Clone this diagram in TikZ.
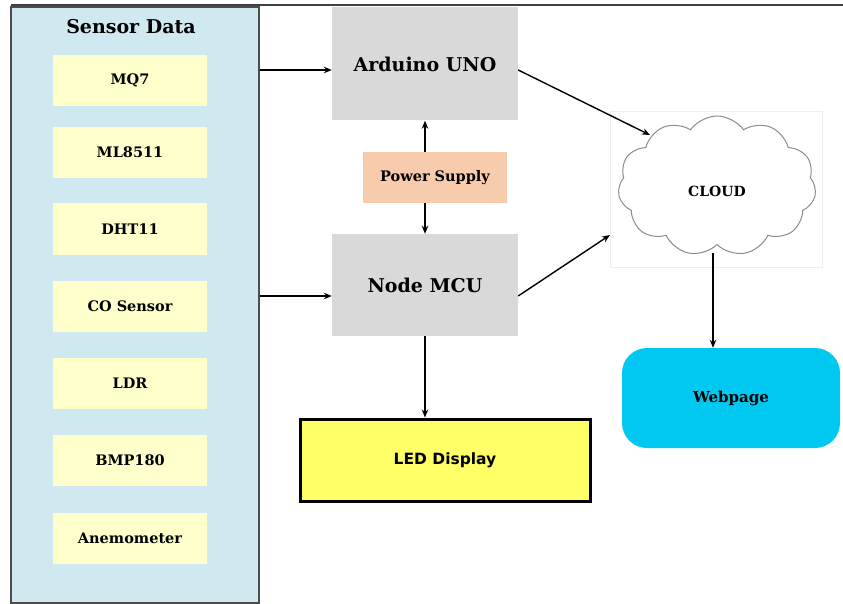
\documentclass[tikz,border=0pt]{standalone}
\usepackage{fontspec}
\setmainfont{DejaVu Serif}
\setsansfont{DejaVu Sans}
\usetikzlibrary{shapes.symbols,arrows.meta}
\definecolor{sensorbg}{RGB}{208,232,240}
\definecolor{sensorfg}{RGB}{255,255,204}
\definecolor{mcugray}{RGB}{217,217,217}
\definecolor{peach}{RGB}{248,203,173}
\definecolor{ledyellow}{RGB}{255,255,102}
\definecolor{webcyan}{RGB}{0,200,240}
\tikzset{
  sensoritem/.style={fill=sensorfg, minimum width=154pt, minimum height=51pt, inner sep=0pt, font=\bfseries\fontsize{14.5}{16}\selectfont},
  mcubox/.style={fill=mcugray, minimum width=186pt, inner sep=0pt, font=\bfseries\fontsize{19}{22}\selectfont},
  arr/.style={draw=black, line width=1.4pt, -{Stealth[length=8pt,width=6.5pt]}},
}
\begin{document}
\begin{tikzpicture}[x=1pt,y=-1pt]
\useasboundingbox (0,0) rectangle (843,604);
\fill[white] (0,0) rectangle (843,604);
\draw[black!75, line width=1.2pt] (11,5) -- (843,5);
% sensor panel
\node[draw=black!70, line width=1.2pt, fill=sensorbg, minimum width=248pt, minimum height=596pt, inner sep=0pt] (sensor) at (135,305) {};
\node[font=\bfseries\fontsize{19}{22}\selectfont] (title) at (131,27) {Sensor Data};
\node[sensoritem] (mq7) at (130,80.5) {MQ7};
\node[sensoritem] (ml) at (130,152.5) {ML8511};
\node[sensoritem] (dht) at (130,229) {DHT11};
\node[sensoritem] (co) at (130,306.5) {CO Sensor};
\node[sensoritem] (ldr) at (130,383) {LDR};
\node[sensoritem] (bmp) at (130,460.5) {BMP180};
\node[sensoritem] (anem) at (130,538) {Anemometer};
% controllers
\node[mcubox, minimum height=113pt] (ard) at (425,64) {Arduino UNO};
\node[fill=peach, minimum width=144pt, minimum height=51pt, inner sep=0pt, font=\bfseries\fontsize{14.5}{16}\selectfont] (power) at (435,177.5) {Power Supply};
\node[mcubox, minimum height=102pt] (mcu) at (425,285) {Node MCU};
\node[draw=black, line width=3pt, fill=ledyellow, minimum width=290pt, minimum height=82pt, inner sep=0pt, font=\sffamily\bfseries\fontsize{15.5}{18}\selectfont] (led) at (445,460) {LED Display};
% cloud
\draw[black!7, line width=1pt] (610,112) rectangle (822,267);
\node[cloud, cloud puffs=11, cloud puff arc=110, aspect=1.45, draw=black!45, line width=1pt, fill=white, minimum width=198pt, minimum height=140pt, inner sep=0pt] (cloud) at (717,186) {};
\node[font=\bfseries\fontsize{14}{16}\selectfont] (cloudtext) at (717,191) {CLOUD};
\node[fill=webcyan, rounded corners=25pt, minimum width=218pt, minimum height=100pt, inner sep=0pt, font=\bfseries\fontsize{15}{17}\selectfont] (web) at (731,398) {Webpage};
% connector endpoints
\coordinate (c1) at (650,135);
\coordinate (c2) at (610,235);
\coordinate (cb) at (713,253);
% arrows
\draw[arr] (sensor.east |- 0,70) -- (ard.west |- 0,70);
\draw[arr] (sensor.east |- 0,296) -- (mcu.west |- 0,296);
\draw[arr] (power.north -| ard.south) -- (ard.south);
\draw[arr] (power.south -| mcu.north) -- (mcu.north);
\draw[arr] (ard.east |- 0,70) -- (c1);
\draw[arr] (mcu.east |- 0,296) -- (c2);
\draw[arr] (mcu.south) -- (led.north -| mcu.south);
\draw[arr] (cb) -- (web.north -| cb);
\end{tikzpicture}
\end{document}
